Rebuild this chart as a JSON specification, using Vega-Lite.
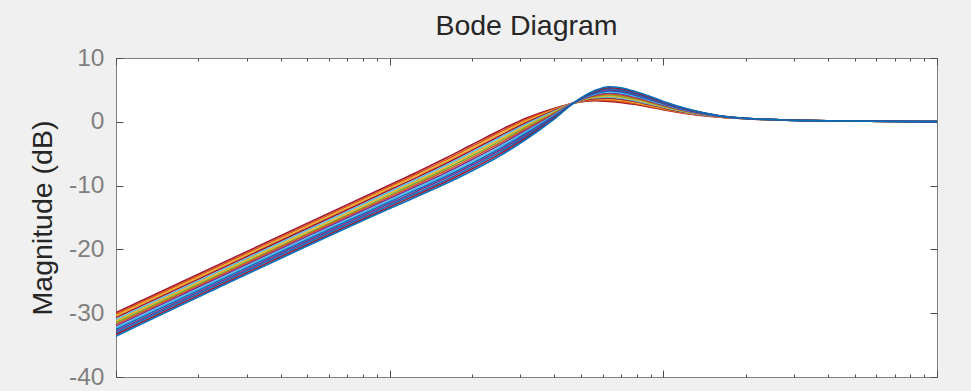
{
"$schema": "https://vega.github.io/schema/vega-lite/v6.json",
"width": 821, "height": 319,
"autosize": {"type": "none"},
"padding": {"left": 116, "top": 58, "right": 34, "bottom": 14},
"background": "#f0f0f0",
"title": {"text": "Bode Diagram", "font": "Liberation Sans", "fontSize": 28.5, "fontWeight": "normal", "color": "#262626", "anchor": "middle", "baseline": "alphabetic", "offset": -18},
"config": {"view": {"stroke": "#7f7f7f", "strokeWidth": 1, "fill": "white"}},
"datasets": {"bode": [
{"run":1,"f":1,"m":-29.9},{"run":1,"f":10,"m":-9.9},{"run":1,"f":12.59,"m":-7.9},{"run":1,"f":15.85,"m":-5.8},{"run":1,"f":19.95,"m":-3.6},{"run":1,"f":25.12,"m":-1.4},{"run":1,"f":31.62,"m":0.6},{"run":1,"f":39.81,"m":2.1},{"run":1,"f":47.32,"m":2.95},{"run":1,"f":56.23,"m":3.3},{"run":1,"f":63.1,"m":3.2},{"run":1,"f":70.79,"m":3.0},{"run":1,"f":79.43,"m":2.7},{"run":1,"f":89.13,"m":2.3},{"run":1,"f":100,"m":1.9},{"run":1,"f":125.9,"m":1.2},{"run":1,"f":158.5,"m":0.75},{"run":1,"f":199.5,"m":0.48},{"run":1,"f":281.8,"m":0.26},{"run":1,"f":398.1,"m":0.14},{"run":1,"f":1000,"m":0.02},
{"run":2,"f":1,"m":-30.16},{"run":2,"f":10,"m":-10.16},{"run":2,"f":12.59,"m":-8.17},{"run":2,"f":15.85,"m":-6.09},{"run":2,"f":19.95,"m":-3.89},{"run":2,"f":25.12,"m":-1.69},{"run":2,"f":31.62,"m":0.36},{"run":2,"f":39.81,"m":1.98},{"run":2,"f":47.32,"m":2.96},{"run":2,"f":56.23,"m":3.41},{"run":2,"f":63.1,"m":3.36},{"run":2,"f":70.79,"m":3.16},{"run":2,"f":79.43,"m":2.84},{"run":2,"f":89.13,"m":2.42},{"run":2,"f":100,"m":1.99},{"run":2,"f":125.9,"m":1.25},{"run":2,"f":158.5,"m":0.77},{"run":2,"f":199.5,"m":0.49},{"run":2,"f":281.8,"m":0.26},{"run":2,"f":398.1,"m":0.14},{"run":2,"f":1000,"m":0.02},
{"run":3,"f":1,"m":-30.43},{"run":3,"f":10,"m":-10.43},{"run":3,"f":12.59,"m":-8.44},{"run":3,"f":15.85,"m":-6.37},{"run":3,"f":19.95,"m":-4.19},{"run":3,"f":25.12,"m":-1.97},{"run":3,"f":31.62,"m":0.13},{"run":3,"f":39.81,"m":1.86},{"run":3,"f":47.32,"m":2.96},{"run":3,"f":56.23,"m":3.53},{"run":3,"f":63.1,"m":3.53},{"run":3,"f":70.79,"m":3.33},{"run":3,"f":79.43,"m":2.99},{"run":3,"f":89.13,"m":2.54},{"run":3,"f":100,"m":2.09},{"run":3,"f":125.9,"m":1.3},{"run":3,"f":158.5,"m":0.79},{"run":3,"f":199.5,"m":0.49},{"run":3,"f":281.8,"m":0.26},{"run":3,"f":398.1,"m":0.14},{"run":3,"f":1000,"m":0.02},
{"run":4,"f":1,"m":-30.69},{"run":4,"f":10,"m":-10.69},{"run":4,"f":12.59,"m":-8.71},{"run":4,"f":15.85,"m":-6.66},{"run":4,"f":19.95,"m":-4.48},{"run":4,"f":25.12,"m":-2.26},{"run":4,"f":31.62,"m":-0.11},{"run":4,"f":39.81,"m":1.74},{"run":4,"f":47.32,"m":2.97},{"run":4,"f":56.23,"m":3.64},{"run":4,"f":63.1,"m":3.69},{"run":4,"f":70.79,"m":3.49},{"run":4,"f":79.43,"m":3.13},{"run":4,"f":89.13,"m":2.66},{"run":4,"f":100,"m":2.18},{"run":4,"f":125.9,"m":1.35},{"run":4,"f":158.5,"m":0.8},{"run":4,"f":199.5,"m":0.5},{"run":4,"f":281.8,"m":0.26},{"run":4,"f":398.1,"m":0.14},{"run":4,"f":1000,"m":0.02},
{"run":5,"f":1,"m":-30.96},{"run":5,"f":10,"m":-10.96},{"run":5,"f":12.59,"m":-8.99},{"run":5,"f":15.85,"m":-6.94},{"run":5,"f":19.95,"m":-4.77},{"run":5,"f":25.12,"m":-2.54},{"run":5,"f":31.62,"m":-0.34},{"run":5,"f":39.81,"m":1.61},{"run":5,"f":47.32,"m":2.98},{"run":5,"f":56.23,"m":3.76},{"run":5,"f":63.1,"m":3.86},{"run":5,"f":70.79,"m":3.66},{"run":5,"f":79.43,"m":3.27},{"run":5,"f":89.13,"m":2.79},{"run":5,"f":100,"m":2.27},{"run":5,"f":125.9,"m":1.4},{"run":5,"f":158.5,"m":0.82},{"run":5,"f":199.5,"m":0.5},{"run":5,"f":281.8,"m":0.27},{"run":5,"f":398.1,"m":0.14},{"run":5,"f":1000,"m":0.02},
{"run":6,"f":1,"m":-31.22},{"run":6,"f":10,"m":-11.22},{"run":6,"f":12.59,"m":-9.26},{"run":6,"f":15.85,"m":-7.23},{"run":6,"f":19.95,"m":-5.06},{"run":6,"f":25.12,"m":-2.83},{"run":6,"f":31.62,"m":-0.58},{"run":6,"f":39.81,"m":1.49},{"run":6,"f":47.32,"m":2.99},{"run":6,"f":56.23,"m":3.87},{"run":6,"f":63.1,"m":4.02},{"run":6,"f":70.79,"m":3.82},{"run":6,"f":79.43,"m":3.41},{"run":6,"f":89.13,"m":2.91},{"run":6,"f":100,"m":2.36},{"run":6,"f":125.9,"m":1.45},{"run":6,"f":158.5,"m":0.84},{"run":6,"f":199.5,"m":0.51},{"run":6,"f":281.8,"m":0.27},{"run":6,"f":398.1,"m":0.14},{"run":6,"f":1000,"m":0.02},
{"run":7,"f":1,"m":-31.49},{"run":7,"f":10,"m":-11.49},{"run":7,"f":12.59,"m":-9.53},{"run":7,"f":15.85,"m":-7.51},{"run":7,"f":19.95,"m":-5.36},{"run":7,"f":25.12,"m":-3.11},{"run":7,"f":31.62,"m":-0.81},{"run":7,"f":39.81,"m":1.37},{"run":7,"f":47.32,"m":2.99},{"run":7,"f":56.23,"m":3.99},{"run":7,"f":63.1,"m":4.19},{"run":7,"f":70.79,"m":3.99},{"run":7,"f":79.43,"m":3.56},{"run":7,"f":89.13,"m":3.03},{"run":7,"f":100,"m":2.46},{"run":7,"f":125.9,"m":1.5},{"run":7,"f":158.5,"m":0.86},{"run":7,"f":199.5,"m":0.51},{"run":7,"f":281.8,"m":0.27},{"run":7,"f":398.1,"m":0.14},{"run":7,"f":1000,"m":0.02},
{"run":8,"f":1,"m":-31.75},{"run":8,"f":10,"m":-11.75},{"run":8,"f":12.59,"m":-9.8},{"run":8,"f":15.85,"m":-7.8},{"run":8,"f":19.95,"m":-5.65},{"run":8,"f":25.12,"m":-3.4},{"run":8,"f":31.62,"m":-1.05},{"run":8,"f":39.81,"m":1.25},{"run":8,"f":47.32,"m":3.0},{"run":8,"f":56.23,"m":4.1},{"run":8,"f":63.1,"m":4.35},{"run":8,"f":70.79,"m":4.15},{"run":8,"f":79.43,"m":3.7},{"run":8,"f":89.13,"m":3.15},{"run":8,"f":100,"m":2.55},{"run":8,"f":125.9,"m":1.55},{"run":8,"f":158.5,"m":0.88},{"run":8,"f":199.5,"m":0.52},{"run":8,"f":281.8,"m":0.27},{"run":8,"f":398.1,"m":0.15},{"run":8,"f":1000,"m":0.02},
{"run":9,"f":1,"m":-32.01},{"run":9,"f":10,"m":-12.01},{"run":9,"f":12.59,"m":-10.07},{"run":9,"f":15.85,"m":-8.09},{"run":9,"f":19.95,"m":-5.94},{"run":9,"f":25.12,"m":-3.69},{"run":9,"f":31.62,"m":-1.29},{"run":9,"f":39.81,"m":1.13},{"run":9,"f":47.32,"m":3.01},{"run":9,"f":56.23,"m":4.21},{"run":9,"f":63.1,"m":4.51},{"run":9,"f":70.79,"m":4.31},{"run":9,"f":79.43,"m":3.84},{"run":9,"f":89.13,"m":3.27},{"run":9,"f":100,"m":2.64},{"run":9,"f":125.9,"m":1.6},{"run":9,"f":158.5,"m":0.89},{"run":9,"f":199.5,"m":0.52},{"run":9,"f":281.8,"m":0.27},{"run":9,"f":398.1,"m":0.15},{"run":9,"f":1000,"m":0.02},
{"run":10,"f":1,"m":-32.28},{"run":10,"f":10,"m":-12.28},{"run":10,"f":12.59,"m":-10.34},{"run":10,"f":15.85,"m":-8.37},{"run":10,"f":19.95,"m":-6.24},{"run":10,"f":25.12,"m":-3.97},{"run":10,"f":31.62,"m":-1.52},{"run":10,"f":39.81,"m":1.01},{"run":10,"f":47.32,"m":3.01},{"run":10,"f":56.23,"m":4.33},{"run":10,"f":63.1,"m":4.68},{"run":10,"f":70.79,"m":4.48},{"run":10,"f":79.43,"m":3.99},{"run":10,"f":89.13,"m":3.39},{"run":10,"f":100,"m":2.74},{"run":10,"f":125.9,"m":1.65},{"run":10,"f":158.5,"m":0.91},{"run":10,"f":199.5,"m":0.53},{"run":10,"f":281.8,"m":0.27},{"run":10,"f":398.1,"m":0.15},{"run":10,"f":1000,"m":0.02},
{"run":11,"f":1,"m":-32.54},{"run":11,"f":10,"m":-12.54},{"run":11,"f":12.59,"m":-10.61},{"run":11,"f":15.85,"m":-8.66},{"run":11,"f":19.95,"m":-6.53},{"run":11,"f":25.12,"m":-4.26},{"run":11,"f":31.62,"m":-1.76},{"run":11,"f":39.81,"m":0.89},{"run":11,"f":47.32,"m":3.02},{"run":11,"f":56.23,"m":4.44},{"run":11,"f":63.1,"m":4.84},{"run":11,"f":70.79,"m":4.64},{"run":11,"f":79.43,"m":4.13},{"run":11,"f":89.13,"m":3.51},{"run":11,"f":100,"m":2.83},{"run":11,"f":125.9,"m":1.7},{"run":11,"f":158.5,"m":0.93},{"run":11,"f":199.5,"m":0.53},{"run":11,"f":281.8,"m":0.27},{"run":11,"f":398.1,"m":0.15},{"run":11,"f":1000,"m":0.02},
{"run":12,"f":1,"m":-32.81},{"run":12,"f":10,"m":-12.81},{"run":12,"f":12.59,"m":-10.89},{"run":12,"f":15.85,"m":-8.94},{"run":12,"f":19.95,"m":-6.82},{"run":12,"f":25.12,"m":-4.54},{"run":12,"f":31.62,"m":-1.99},{"run":12,"f":39.81,"m":0.76},{"run":12,"f":47.32,"m":3.03},{"run":12,"f":56.23,"m":4.56},{"run":12,"f":63.1,"m":5.01},{"run":12,"f":70.79,"m":4.81},{"run":12,"f":79.43,"m":4.27},{"run":12,"f":89.13,"m":3.64},{"run":12,"f":100,"m":2.92},{"run":12,"f":125.9,"m":1.75},{"run":12,"f":158.5,"m":0.95},{"run":12,"f":199.5,"m":0.54},{"run":12,"f":281.8,"m":0.28},{"run":12,"f":398.1,"m":0.15},{"run":12,"f":1000,"m":0.02},
{"run":13,"f":1,"m":-33.07},{"run":13,"f":10,"m":-13.07},{"run":13,"f":12.59,"m":-11.16},{"run":13,"f":15.85,"m":-9.23},{"run":13,"f":19.95,"m":-7.11},{"run":13,"f":25.12,"m":-4.83},{"run":13,"f":31.62,"m":-2.23},{"run":13,"f":39.81,"m":0.64},{"run":13,"f":47.32,"m":3.04},{"run":13,"f":56.23,"m":4.67},{"run":13,"f":63.1,"m":5.17},{"run":13,"f":70.79,"m":4.97},{"run":13,"f":79.43,"m":4.41},{"run":13,"f":89.13,"m":3.76},{"run":13,"f":100,"m":3.01},{"run":13,"f":125.9,"m":1.8},{"run":13,"f":158.5,"m":0.96},{"run":13,"f":199.5,"m":0.54},{"run":13,"f":281.8,"m":0.28},{"run":13,"f":398.1,"m":0.15},{"run":13,"f":1000,"m":0.02},
{"run":14,"f":1,"m":-33.34},{"run":14,"f":10,"m":-13.34},{"run":14,"f":12.59,"m":-11.43},{"run":14,"f":15.85,"m":-9.51},{"run":14,"f":19.95,"m":-7.41},{"run":14,"f":25.12,"m":-5.11},{"run":14,"f":31.62,"m":-2.46},{"run":14,"f":39.81,"m":0.52},{"run":14,"f":47.32,"m":3.04},{"run":14,"f":56.23,"m":4.79},{"run":14,"f":63.1,"m":5.34},{"run":14,"f":70.79,"m":5.14},{"run":14,"f":79.43,"m":4.56},{"run":14,"f":89.13,"m":3.88},{"run":14,"f":100,"m":3.11},{"run":14,"f":125.9,"m":1.85},{"run":14,"f":158.5,"m":0.98},{"run":14,"f":199.5,"m":0.55},{"run":14,"f":281.8,"m":0.28},{"run":14,"f":398.1,"m":0.15},{"run":14,"f":1000,"m":0.02},
{"run":15,"f":1,"m":-33.6},{"run":15,"f":10,"m":-13.6},{"run":15,"f":12.59,"m":-11.7},{"run":15,"f":15.85,"m":-9.8},{"run":15,"f":19.95,"m":-7.7},{"run":15,"f":25.12,"m":-5.4},{"run":15,"f":31.62,"m":-2.7},{"run":15,"f":39.81,"m":0.4},{"run":15,"f":47.32,"m":3.05},{"run":15,"f":56.23,"m":4.9},{"run":15,"f":63.1,"m":5.5},{"run":15,"f":70.79,"m":5.3},{"run":15,"f":79.43,"m":4.7},{"run":15,"f":89.13,"m":4.0},{"run":15,"f":100,"m":3.2},{"run":15,"f":125.9,"m":1.9},{"run":15,"f":158.5,"m":1.0},{"run":15,"f":199.5,"m":0.55},{"run":15,"f":281.8,"m":0.28},{"run":15,"f":398.1,"m":0.15},{"run":15,"f":1000,"m":0.02}
]},
"data": {"name": "bode"},
"layer": [
{
"mark": {"type": "line", "interpolate": "monotone", "strokeWidth": 1.6, "clip": true},
"encoding": {
"x": {"field": "f", "type": "quantitative",
 "scale": {"type": "log", "domain": [1, 1000], "nice": false},
 "axis": {"orient": "bottom", "title": null, "labels": false, "grid": false, "domain": false,
  "values": [1,2,3,4,5,6,7,8,9,10,20,30,40,50,60,70,80,90,100,200,300,400,500,600,700,800,900,1000],
  "tickColor": "#4d4d4d", "tickWidth": 1,
  "tickSize": {"condition": {"test": "datum.value == 1 || datum.value == 10 || datum.value == 100 || datum.value == 1000", "value": -7}, "value": -3}}},
"y": {"field": "m", "type": "quantitative",
 "scale": {"domain": [-40, 10], "nice": false, "zero": false},
 "axis": {"orient": "left", "values": [-40,-30,-20,-10,0,10], "grid": false, "domain": false,
  "tickSize": -7, "tickColor": "#4d4d4d", "tickWidth": 1,
  "labelExpr": "'' + datum.value",
  "labelFont": "Liberation Sans", "labelFontSize": 24.5, "labelColor": "#808080", "labelPadding": 19,
  "title": "Magnitude (dB)", "titleFont": "Liberation Sans", "titleFontSize": 28.5, "titleFontWeight": "normal", "titleColor": "#262626", "titlePadding": 11}},
"color": {"field": "run", "type": "nominal", "legend": null,
 "scale": {"domain": [1,2,3,4,5,6,7,8,9,10,11,12,13,14,15],
  "range": ["#A2142F","#D95319","#EDB120","#A2142F","#4DBEEE","#EDB120","#77AC30","#D95319","#7E2F8E","#4DBEEE","#0072BD","#7E2F8E","#0072BD","#A2142F","#0072BD"]}}
}
},
{
"mark": {"type": "point", "opacity": 0},
"encoding": {
"x": {"field": "f", "type": "quantitative",
 "scale": {"type": "log", "domain": [1, 1000], "nice": false},
 "axis": {"orient": "top", "title": null, "labels": false, "grid": false, "domain": false,
  "values": [1,2,3,4,5,6,7,8,9,10,20,30,40,50,60,70,80,90,100,200,300,400,500,600,700,800,900,1000],
  "tickColor": "#4d4d4d", "tickWidth": 1,
  "tickSize": {"condition": {"test": "datum.value == 1 || datum.value == 10 || datum.value == 100 || datum.value == 1000", "value": -7}, "value": -3}}},
"y": {"field": "m", "type": "quantitative",
 "scale": {"domain": [-40, 10], "nice": false, "zero": false},
 "axis": {"orient": "right", "values": [-40,-30,-20,-10,0,10], "grid": false, "domain": false, "labels": false, "title": null,
  "tickSize": -7, "tickColor": "#4d4d4d", "tickWidth": 1}}
}
}
],
"resolve": {"axis": {"x": "independent", "y": "independent"}}
}
